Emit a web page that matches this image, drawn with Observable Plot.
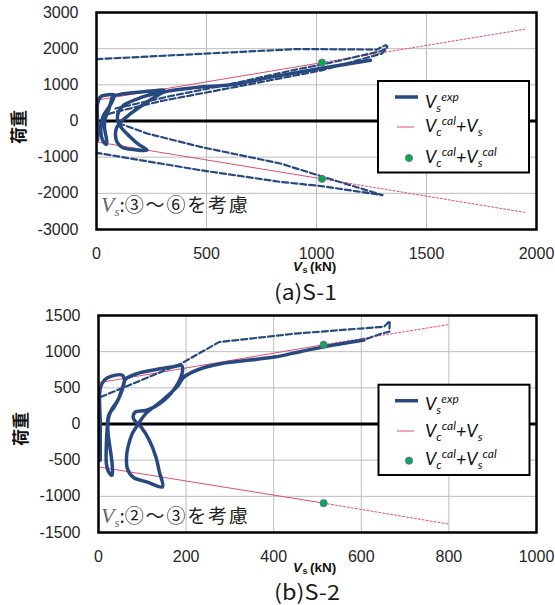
<!DOCTYPE html>
<html><head><meta charset="utf-8">
<script src="https://cdn.jsdelivr.net/npm/d3@7"></script>
<script src="https://cdn.jsdelivr.net/npm/@observablehq/plot@0.6"></script>
<style>
body{margin:0;background:#fff;}
#wrap{position:relative;width:555px;height:605px;overflow:hidden;background:#fff;}
#wrap svg{position:absolute;left:0;}
</style></head><body><div id="wrap"></div>
<script>
// ---------- S-1 data ----------
const s1XTicks = [0, 500, 1000, 1500, 2000];
const s1YTicks = [-3000, -2000, -1000, 0, 1000, 2000, 3000];
const s1Solid = [[5,-530],[5,0],[5,480],[18,667],[41,713],[80,718],[70,520],[50,330],[32,150],[24,0],[20,-200],[22,-420],[32,-580],[45,-650],[46,-520],[40,-330],[36,-130],[40,80],[55,300],[65,520],[75,680],[110,740],[200,800],[306,855],[250,740],[190,620],[124,437],[100,250],[95,80],[100,-50],[115,-200],[150,-420],[190,-640],[230,-810],[170,-790],[120,-740],[95,-600],[86,-380],[92,-180],[110,-30],[150,180],[200,400],[260,640],[306,800],[460,930],[609,1000],[800,1220],[1023,1460],[1245,1680]];
const s1DashTop = [[0,1710],[912,1990],[1276,1975],[1300,2060],[1314,2096],[1322,2060],[1318,2000],[1298,1866],[1023,1400],[609,915],[300,560],[86,250],[30,150]];
const s1DashInner = [[86,345],[336,690],[609,1020],[912,1430],[1033,1570],[1291,1930],[1316,2000]];
const s1DashLower = [[100,-60],[230,-346],[473,-716],[836,-1175],[1023,-1530],[1300,-2050],[1023,-1800],[836,-1684],[473,-1360],[0,-880]];
const s1CalcUp = [[0,575],[1025,1615]];
const s1CalcDown = [[0,-578],[1025,-1600]];
const s1CalcUpExt = [[1025,1615],[1945,2535]];
const s1CalcDownExt = [[1025,-1600],[1945,-2525]];
const s1Green = [[1025,1615],[1025,-1600]];

// ---------- S-2 data ----------
const s2XTicks = [0, 200, 400, 600, 800, 1000];
const s2YTicks = [-1500, -1000, -500, 0, 500, 1000, 1500];
const s2Solid = [[4,-500],[4,0],[4,490],[13,603],[28,658],[55,672],[59,603],[51,420],[36,236],[23,121],[20,-40],[18,-271],[18,-547],[23,-662],[31,-708],[31,-547],[26,-317],[22,-133],[22,51],[29,189],[44,327],[55,511],[62,620],[90,700],[130,750],[170,790],[190,808],[192,741],[181,557],[150,330],[110,190],[84,166],[79,97],[85,28],[97,-41],[116,-225],[131,-455],[139,-662],[146,-869],[110,-800],[80,-740],[66,-620],[64,-450],[68,-300],[77,-133],[89,-18],[108,143],[146,327],[180,520],[195,649],[233,764],[279,833],[340,880],[401,925],[460,1000],[511,1063],[606,1160]];
const s2Dash = [[5,373],[188,833],[275,1132],[450,1250],[652,1345],[665,1425],[664,1275],[645,1248],[606,1165]];
const s2CalcUp = [[0,570],[514,1096]];
const s2CalcDown = [[0,-593],[514,-1094]];
const s2CalcUpExt = [[514,1096],[800,1375]];
const s2CalcDownExt = [[514,-1094],[800,-1384]];
const s2Green = [[514,1096],[514,-1094]];

const BLUE = "#27497f", RED = "#de5072", GREEN = "#00b050";

function rows(list) {
  return list.flatMap((arr, k) => arr.map(([x, y]) => ({x, y, k})));
}

function panel(c) {
  const plot = Plot.plot({
    width: 555, height: c.height,
    marginLeft: c.ml, marginRight: 19, marginTop: 12, marginBottom: c.height - 229,
    x: {domain: [0, c.xTicks[c.xTicks.length - 1]]},
    y: {domain: [c.yTicks[0], c.yTicks[c.yTicks.length - 1]]},
    style: {fontFamily: "'Liberation Sans', Arial, sans-serif", fontSize: "16px", color: "#262626", background: "transparent", overflow: "visible"},
    marks: [
      Plot.gridX(c.xTicks, {stroke: "#bdbdbd", strokeOpacity: 1, strokeWidth: 1}),
      Plot.gridY(c.yTicks, {stroke: "#bdbdbd", strokeOpacity: 1, strokeWidth: 1}),
      Plot.ruleY([0], {stroke: "#000", strokeWidth: 3}),
      Plot.line(rows(c.calc), {x: "x", y: "y", z: "k", stroke: RED, strokeWidth: 1}),
      Plot.line(rows(c.calcExt), {x: "x", y: "y", z: "k", stroke: RED, strokeWidth: 1, strokeDasharray: "2,2"}),
      Plot.line(rows(c.dashed), {x: "x", y: "y", z: "k", stroke: BLUE, strokeWidth: 2.2, strokeDasharray: "6,3"}),
      Plot.line(c.solid, {x: d => d[0], y: d => d[1], stroke: BLUE, strokeWidth: 3.5, curve: "catmull-rom", strokeLinejoin: "round"}),
      Plot.dot(c.green, {x: d => d[0], y: d => d[1], r: 3.6, fill: GREEN, stroke: "#7a5a9e", strokeWidth: 0.8}),
      Plot.frame({stroke: "#000", strokeWidth: 2.5}),
      Plot.axisX(c.xTicks, {tickSize: 0, tickPadding: 18, tickFormat: d => String(d), label: null}),
      Plot.axisY(c.yTicks, {tickSize: 0, tickPadding: 18, tickFormat: d => String(d), label: null})
    ]
  });
  plot.style.top = c.top + "px";
  const svg = d3.select(plot);

  // y label
  svg.append("text")
    .attr("transform", `translate(${c.yLab[0]},${c.yLab[1]}) rotate(-90)`)
    .attr("text-anchor", "middle").attr("dominant-baseline", "central")
    .attr("font-family", "'Noto Sans CJK JP', sans-serif").attr("font-weight", "bold")
    .attr("font-size", 17).attr("fill", "#111").text("荷重");

  // x label (three side-by-side pieces: V, subscript s, (kN))
  const xlFont = "'Liberation Sans', Arial, sans-serif";
  const y0 = c.xLab;
  svg.append("text").attr("x", 293).attr("y", y0).attr("text-anchor", "start")
    .attr("font-family", xlFont).attr("font-weight", "bold").attr("font-style", "italic")
    .attr("font-size", 13.5).attr("fill", "#111").text("V");
  svg.append("text").attr("x", 302.5).attr("y", y0 + 2).attr("text-anchor", "start")
    .attr("font-family", xlFont).attr("font-weight", "bold")
    .attr("font-size", 9).attr("fill", "#111").text("s");
  svg.append("text").attr("x", 310).attr("y", y0).attr("text-anchor", "start")
    .attr("font-family", xlFont).attr("font-weight", "bold")
    .attr("font-size", 13.5).attr("fill", "#111").text("(kN)");

  // caption
  svg.append("text").attr("x", 274).attr("y", c.capY).attr("text-anchor", "start")
    .attr("font-family", "'Noto Sans CJK JP', sans-serif").attr("font-size", 21)
    .attr("fill", "#1a1a1a").attr("textLength", c.capW).attr("lengthAdjust", "spacingAndGlyphs")
    .text(c.caption);

  // annotation
  const an = svg.append("text").attr("x", 101).attr("y", c.annoY).attr("text-anchor", "start");
  an.append("tspan").attr("font-family", "'Liberation Serif', serif").attr("font-style", "italic")
    .attr("font-size", 22).attr("fill", "#666").text("V");
  an.append("tspan").attr("font-family", "'Liberation Serif', serif").attr("font-style", "italic")
    .attr("font-size", 13).attr("fill", "#666").attr("dy", 4).text("s");
  an.append("tspan").attr("font-family", "'Noto Sans CJK JP', sans-serif").attr("font-size", 19)
    .attr("fill", "#222").attr("dy", -4).text(":");
  an.append("tspan").attr("font-family", "'Noto Sans CJK JP', sans-serif").attr("font-size", 19)
    .attr("fill", "#222").attr("letter-spacing", 1.8).text(c.anno);

  // legend
  const L = c.legend;
  const g = svg.append("g").attr("text-anchor", "start");
  g.append("rect").attr("x", L.x).attr("y", L.y).attr("width", L.w).attr("height", L.h)
    .attr("fill", "#fff").attr("stroke", "#000").attr("stroke-width", 2);
  g.append("line").attr("x1", 395).attr("x2", 418).attr("y1", L.l1).attr("y2", L.l1)
    .attr("stroke", BLUE).attr("stroke-width", 3.5);
  g.append("line").attr("x1", 397).attr("x2", 414).attr("y1", L.l2).attr("y2", L.l2)
    .attr("stroke", RED).attr("stroke-width", 1);
  g.append("circle").attr("cx", 409).attr("cy", L.l3).attr("r", 3.6)
    .attr("fill", GREEN).attr("stroke", "#7a5a9e").attr("stroke-width", 0.8);
  const entries = [
    [L.b1, [["V", 18, 0], ["s", 12, 4], ["exp", 12, -11]]],
    [L.b2, [["V", 18, 0], ["c", 12, 4], ["cal", 12, -11], ["+", 18, 7], ["V", 18, 0], ["s", 12, 4]]],
    [L.b3, [["V", 18, 0], ["c", 12, 4], ["cal", 12, -11], ["+", 18, 7], ["V", 18, 0], ["s", 12, 4], ["cal", 12, -11]]]
  ];
  for (const [by, parts] of entries) {
    const t = g.append("text").attr("x", 425).attr("y", by).attr("text-anchor", "start")
      .attr("font-family", "Lato, 'Open Sans', sans-serif").attr("font-style", "italic").attr("fill", "#111");
    for (const [s, fs, dy] of parts) t.append("tspan").attr("font-size", fs).attr("dy", dy).text(s);
  }
  document.getElementById("wrap").appendChild(plot);
}

panel({
  top: 0, height: 303, ml: 96, xTicks: s1XTicks, yTicks: s1YTicks,
  solid: s1Solid, dashed: [s1DashTop, s1DashInner, s1DashLower],
  calc: [s1CalcUp, s1CalcDown], calcExt: [s1CalcUpExt, s1CalcDownExt], green: s1Green,
  yLab: [17, 127], xLab: 271, capY: 299.5, capW: 63, caption: "(a)S-1",
  annoY: 212, anno: "③～⑥を考慮",
  legend: {x: 378, y: 81, w: 151, h: 91.5, l1: 97, l2: 127, l3: 158, b1: 108, b2: 132, b3: 163}
});
panel({
  top: 303, height: 302, ml: 98, xTicks: s2XTicks, yTicks: s2YTicks,
  solid: s2Solid, dashed: [s2Dash],
  calc: [s2CalcUp, s2CalcDown], calcExt: [s2CalcUpExt, s2CalcDownExt], green: s2Green,
  yLab: [19, 126], xLab: 268.5, capY: 297, capW: 66, caption: "(b)S-2",
  annoY: 220, anno: "②～③を考慮",
  legend: {x: 378.5, y: 81.7, w: 151, h: 90.3, l1: 97.7, l2: 128, l3: 157.7, b1: 107, b2: 133.5, b3: 162}
});
</script></body></html>
